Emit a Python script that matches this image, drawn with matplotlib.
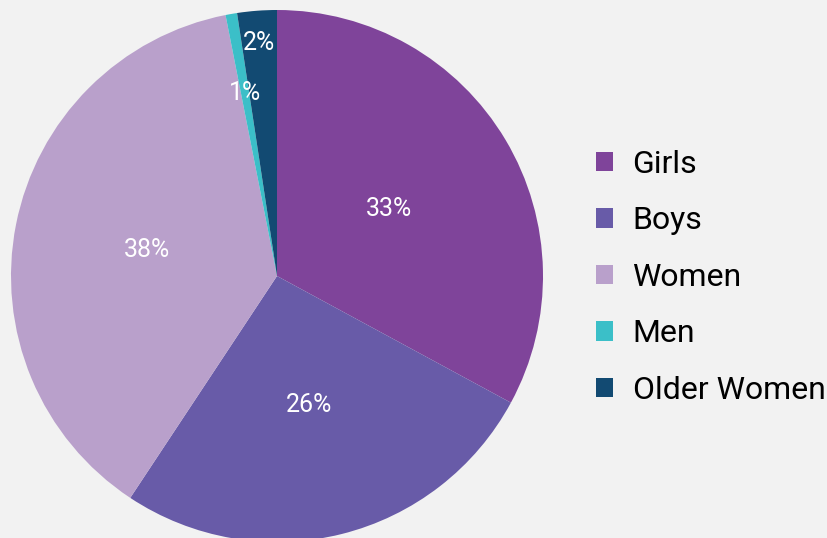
import numpy as np
import matplotlib.pyplot as plt
from matplotlib.patches import Patch

labels = ["Girls", "Boys", "Women", "Men", "Older Women"]
shares = [32.9, 26.4, 37.6, 0.7, 2.4]
colors = ["#7F449A", "#685BA8", "#B9A0CB", "#3BBFC8", "#124A72"]
label_radius = [0.49, 0.5, 0.5, 0.70, 0.88]

plt.rcParams['font.family'] = ['Roboto', 'DejaVu Sans']

fig = plt.figure(figsize=(8.27, 5.38), dpi=100)
fig.patch.set_facecolor("#F2F2F2")

# pie axes: center ~ (277, 276) px, radius ~266 px
r_px = 266
ax = fig.add_axes([(277 - r_px) / 827, (262 - r_px) / 538, 2 * r_px / 827, 2 * r_px / 538])
ax.set_facecolor("#F2F2F2")
wedges, _ = ax.pie(shares, colors=colors, startangle=90, counterclock=False,
                   radius=1, wedgeprops=dict(linewidth=0))
ax.set_xlim(-1, 1)
ax.set_ylim(-1, 1)
ax.set_aspect("equal")
ax.axis("off")

# percentage labels
total = sum(shares)
for w, s, rr in zip(wedges, shares, label_radius):
    ang = np.deg2rad((w.theta1 + w.theta2) / 2)
    ax.text(rr * np.cos(ang), rr * np.sin(ang), f"{round(s / total * 100):d}%",
            ha="center", va="center", color="white", fontsize=18)

handles = [Patch(facecolor=c, edgecolor="none") for c in colors]
fig.legend(handles, labels, loc="upper left", bbox_to_anchor=(583 / 827, 1 - 137 / 538),
           frameon=False, fontsize=23, handlelength=0.55, handleheight=0.55,
           handletextpad=0.6, labelspacing=0.86, borderaxespad=0)

fig.savefig("out.png", dpi=100, facecolor=fig.get_facecolor())
